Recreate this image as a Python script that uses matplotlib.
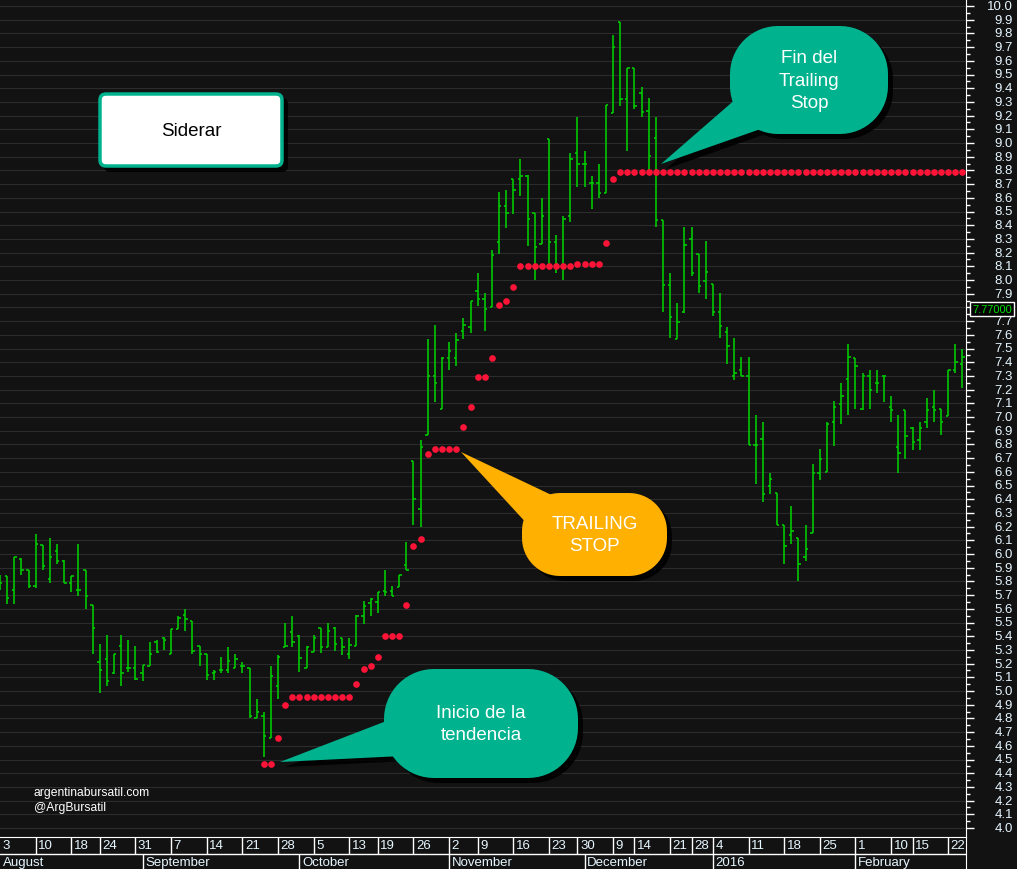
import numpy as np
import pandas as pd
import matplotlib
matplotlib.use("Agg")
import matplotlib.pyplot as plt
from matplotlib.patches import FancyBboxPatch, Polygon
from matplotlib.transforms import blended_transform_factory

plt.rcParams['font.family'] = ['Liberation Sans', 'DejaVu Sans']

# trading calendar (BCBA) -- business days minus market holidays
holidays = ["2015-08-17", "2015-10-12", "2015-11-06", "2015-11-27", "2015-12-07",
            "2015-12-08", "2015-12-24", "2015-12-25", "2015-12-31", "2016-01-01",
            "2016-02-08", "2016-02-09"]
days = pd.bdate_range("2015-08-03", "2016-02-24")
days = days[~days.isin(pd.to_datetime(holidays))]

# daily OHLC
opens = [5.80, 5.84, 5.74, 5.96, 5.88, 5.77, 6.065, 5.82, 6.02, 5.95,
         5.79, 5.74, 5.88, 5.63, 5.21, 5.23, 5.13, 5.33, 5.17, 5.17,
         5.13, 5.18, 5.36, 5.385, 5.27, 5.455, 5.555, 5.51, 5.33, 5.27,
         5.13, 5.155, 5.155, 5.17, 5.18, 5.17, 4.80, 4.82, 4.66, 5.04,
         5.32, 5.43, 5.40, 5.17, 5.285, 5.457, 5.32, 5.46, 5.39, 5.27,
         5.33, 5.55, 5.64, 5.65, 5.73, 5.73, 5.76, 5.92, 6.68, 6.33,
         6.87, 7.30, 7.06, 7.43, 7.43, 7.625, 7.66, 7.92, 7.86, 7.80,
         8.275, 8.54, 8.74, 8.74, 8.757, 8.49, 8.26, 9.03, 8.275, 8.105,
         8.47, 8.93, 8.85, 8.71, 8.71, 8.635, 9.22, 9.88, 9.32, 9.55,
         9.365, 9.23, 9.035, 8.44, 7.96, 7.57, 7.77, 8.30, 8.19, 7.995,
         7.97, 7.77, 7.62, 7.30, 7.34, 7.30, 6.795, 6.84, 6.495, 6.445,
         6.21, 6.14, 6.115, 5.975, 6.15, 6.59, 6.60, 6.96, 7.095, 7.28,
         7.43, 7.06, 7.30, 7.25, 7.30, 7.07, 6.78, 7.05, 6.92, 6.835,
         6.96, 7.07, 7.06, 7.01, 7.34, 7.39]
highs = [5.85, 5.84, 5.98, 5.968, 5.88, 6.145, 6.065, 6.115, 6.07, 5.955,
         5.84, 6.07, 5.88, 5.63, 5.34, 5.41, 5.27, 5.41, 5.37, 5.33,
         5.19, 5.36, 5.37, 5.395, 5.455, 5.545, 5.60, 5.51, 5.33, 5.27,
         5.15, 5.245, 5.32, 5.27, 5.21, 5.17, 4.94, 4.85, 5.18, 5.26,
         5.50, 5.55, 5.41, 5.33, 5.41, 5.457, 5.50, 5.465, 5.39, 5.39,
         5.555, 5.66, 5.676, 5.725, 5.885, 5.77, 5.85, 6.09, 6.68, 6.83,
         7.57, 7.67, 7.435, 7.55, 7.61, 7.72, 7.85, 8.05, 7.905, 8.22,
         8.645, 8.66, 8.74, 8.885, 8.77, 8.49, 8.60, 9.03, 8.33, 8.47,
         8.93, 9.19, 8.94, 8.76, 8.85, 9.28, 9.79, 9.88, 9.55, 9.55,
         9.41, 9.326, 9.19, 8.44, 8.05, 7.83, 8.385, 8.385, 8.19, 8.287,
         7.97, 7.905, 7.66, 7.577, 7.44, 7.44, 7.015, 6.966, 6.59, 6.445,
         6.21, 6.35, 6.115, 6.21, 6.66, 6.77, 6.966, 7.12, 7.25, 7.53,
         7.43, 7.32, 7.345, 7.34, 7.30, 7.155, 7.015, 7.053, 6.925, 6.96,
         7.14, 7.20, 7.06, 7.345, 7.53, 7.50]
lows = [5.74, 5.635, 5.635, 5.85, 5.75, 5.75, 5.885, 5.79, 5.93, 5.79,
        5.725, 5.695, 5.60, 5.27, 4.985, 5.04, 5.125, 5.04, 5.14, 5.08,
        5.075, 5.18, 5.28, 5.30, 5.27, 5.455, 5.44, 5.27, 5.18, 5.08,
        5.08, 5.13, 5.13, 5.17, 5.13, 4.80, 4.80, 4.515, 4.66, 4.94,
        5.32, 5.32, 5.14, 5.17, 5.285, 5.275, 5.32, 5.295, 5.26, 5.23,
        5.33, 5.49, 5.55, 5.57, 5.695, 5.69, 5.757, 5.88, 6.21, 6.20,
        6.87, 7.107, 7.06, 7.34, 7.37, 7.57, 7.61, 7.81, 7.63, 7.80,
        8.19, 8.38, 8.48, 8.61, 8.245, 8.00, 8.26, 8.115, 8.05, 8.00,
        8.42, 8.68, 8.68, 8.52, 8.60, 8.635, 9.22, 9.27, 8.94, 9.25,
        9.19, 8.805, 8.385, 7.77, 7.58, 7.57, 7.76, 8.03, 7.905, 7.86,
        7.74, 7.575, 7.39, 7.27, 7.30, 6.795, 6.51, 6.38, 6.44, 6.21,
        5.93, 6.07, 5.80, 5.95, 6.15, 6.54, 6.60, 6.79, 6.95, 7.015,
        7.06, 7.053, 7.06, 7.175, 7.11, 6.966, 6.59, 6.69, 6.76, 6.76,
        6.92, 6.966, 6.87, 7.01, 7.32, 7.21]
closes = [5.79, 5.68, 5.975, 5.88, 5.77, 6.07, 5.915, 5.98, 5.95, 5.79,
          5.84, 5.74, 5.69, 5.46, 5.155, 5.075, 5.27, 5.135, 5.17, 5.09,
          5.19, 5.27, 5.285, 5.37, 5.455, 5.53, 5.525, 5.29, 5.27, 5.12,
          5.14, 5.155, 5.22, 5.23, 5.18, 4.82, 4.85, 4.67, 5.11, 5.245,
          5.33, 5.36, 5.24, 5.32, 5.39, 5.32, 5.44, 5.343, 5.32, 5.336,
          5.55, 5.62, 5.67, 5.72, 5.72, 5.69, 5.85, 5.88, 6.40, 6.78,
          7.30, 7.246, 7.43, 7.48, 7.56, 7.674, 7.85, 7.86, 7.79, 8.18,
          8.54, 8.49, 8.66, 8.757, 8.445, 8.24, 8.47, 8.28, 8.12, 8.445,
          8.885, 8.85, 8.85, 8.71, 8.635, 9.277, 9.70, 9.32, 9.55, 9.27,
          9.224, 8.907, 8.44, 7.96, 7.73, 7.69, 8.255, 8.05, 7.955, 8.06,
          7.77, 7.665, 7.515, 7.32, 7.30, 6.795, 6.795, 6.44, 6.55, 6.21,
          6.06, 6.17, 5.93, 6.04, 6.59, 6.69, 6.95, 7.07, 7.15, 7.436,
          7.37, 7.30, 7.20, 7.25, 7.30, 7.053, 6.74, 6.86, 6.82, 6.92,
          7.05, 7.05, 6.96, 7.34, 7.40, 7.435]
# trailing stop dots (starts on bar 37)
stop = [None] * 37 + [
    4.47, 4.47, 4.66, 4.90,
    4.955, 4.955, 4.955, 4.955, 4.955, 4.955, 4.955, 4.955, 4.955,
    5.05, 5.16, 5.18, 5.245, 5.40, 5.40, 5.40,
    5.63, 6.06, 6.11, 6.73, 6.77, 6.77, 6.77, 6.77,
    6.925, 7.07, 7.29, 7.29, 7.43, 7.82, 7.85, 7.95,
    8.10, 8.10, 8.10, 8.10, 8.10, 8.10, 8.10, 8.10,
    8.115, 8.115, 8.115, 8.115, 8.27, 8.735,
    8.786, 8.786, 8.786, 8.786, 8.786, 8.786, 8.786, 8.786, 8.786, 8.786,
    8.786, 8.786, 8.786, 8.786, 8.786, 8.786, 8.786, 8.786, 8.786, 8.786,
    8.786, 8.786, 8.786, 8.786, 8.786, 8.786, 8.786, 8.786, 8.786, 8.786,
    8.786, 8.786, 8.786, 8.786, 8.786, 8.786, 8.786, 8.786, 8.786, 8.786,
    8.786, 8.786, 8.786, 8.786, 8.786, 8.786, 8.786, 8.786, 8.786]
last_price = 7.77
price_ticks = [round(4.0 + 0.1 * k, 1) for k in range(61)]

BG = "#121212"
GREEN = "#00c800"
RED = "#ff1438"
TEAL = "#00b38e"
ORANGE = "#ffb000"
AXTXT = "#e6f6ff"
W, H = 1017, 870

fig = plt.figure(figsize=(W / 100, H / 100), dpi=100, facecolor=BG)
ax = fig.add_axes([0, 32 / H, 966 / W, 838 / H], facecolor=BG)
idx = np.arange(len(opens))
stop_arr = np.array([np.nan if v is None else v for v in stop])

ax.vlines(idx, lows, highs, color=GREEN, lw=1.2)
ax.hlines(opens, idx - 0.33, idx, color=GREEN, lw=1.2)
ax.hlines(closes, idx, idx + 0.33, color=GREEN, lw=1.2)
ax.plot(idx, stop_arr, "o", color=RED, ms=4.8, mew=0, zorder=3)

ax.set_xlim(0, 135.5)
ax.set_ylim(4 - 9 / 137, 10 + 7 / 137)
ax.set_yticks(price_ticks)
ax.set_yticks([t + 0.05 for t in price_ticks[:-1]], minor=True)
ax.set_xticks([])
ax.grid(axis="y", which="major", color="#2c2c2c", lw=0.8)
ax.set_axisbelow(True)
ax.yaxis.tick_right()
ax.tick_params(axis="y", which="major", direction="out", length=5.5, width=1,
               color="white", labelright=False)
ax.tick_params(axis="y", which="minor", direction="out", length=3, width=1,
               color="white")
for s in ("top", "left", "bottom"):
    ax.spines[s].set_visible(False)
ax.spines["right"].set_color("white")

# right price scale; the last-price box sits on top of the label it covers
tr = blended_transform_factory(fig.transFigure, ax.transData)
box_y = last_price + 0.02
for t in price_ticks:
    if abs(t - box_y) < 0.06:
        continue
    ax.text(1013 / W, t, f"{t:.1f}", transform=tr, ha="right", va="center",
            fontsize=9.5, color=AXTXT, clip_on=False)
ax.text(992 / W, box_y, f"{last_price:.5f}", transform=tr, ha="center",
        va="center", fontsize=8, color="#00dd00", clip_on=False, zorder=5,
        bbox=dict(boxstyle="square,pad=0.2", fc="black", ec="white", lw=1))

# date band
axd = fig.add_axes([0, 0, 966 / W, 32 / H], facecolor=BG)
axd.set_xlim(0, 135.5)
axd.set_ylim(0, 32)
axd.set_xticks([]); axd.set_yticks([])
for s in ("left", "bottom"):
    axd.spines[s].set_visible(False)
for s in ("top", "right"):
    axd.spines[s].set_color("white")
week = days.to_period("W")
week_starts = [i for i in range(len(days)) if i == 0 or week[i] != week[i - 1]]
month_starts = [i for i in range(len(days)) if i == 0 or days[i].month != days[i - 1].month]
axd.axhline(15.5, color="white", lw=1)
axd.vlines(week_starts[1:], 15.5, 32, color="white", lw=1)
axd.vlines(month_starts[1:], 0, 15.5, color="white", lw=1)
for i in week_starts:
    axd.text(i + 0.35, 23.5, str(days[i].day), fontsize=9.5, color=AXTXT,
             ha="left", va="center")
for i in month_starts:
    name = str(days[i].year) if days[i].month == 1 else days[i].strftime("%B")
    axd.text(i + 0.35, 7, name, fontsize=9.5, color=AXTXT, ha="left", va="center")

# callouts, drawn in pixel coordinates
ov = fig.add_axes([0, 0, 1, 1])
ov.set_xlim(0, W); ov.set_ylim(H, 0)
ov.axis("off")
ov.patch.set_visible(False)


def rounded(x, y, w, h, r):
    # rectangle outline with circular-arc corners
    pts = []
    corners = [(x + w - r, y + r, -90, 0), (x + w - r, y + h - r, 0, 90),
               (x + r, y + h - r, 90, 180), (x + r, y + r, 180, 270)]
    for cx, cy, a0, a1 in corners:
        a = np.radians(np.linspace(a0, a1, 16))
        pts += list(zip(cx + r * np.cos(a), cy + r * np.sin(a)))
    return pts


def bubble(x, y, w, h, r, tail, color, text, size):
    for dx, fc, a, z in ((5, "black", 0.85, 4), (0, color, 1, 5)):
        ov.add_patch(Polygon([(px + dx, py + dx) for px, py in tail], closed=True,
                             fc=fc, ec="none", alpha=a, zorder=z))
        ov.add_patch(Polygon(rounded(x + dx, y + dx, w, h, r), closed=True,
                             fc=fc, ec="none", alpha=a, zorder=z))
    ov.text(x + w / 2, y + h / 2, text, ha="center", va="center", color="white",
            fontsize=size, linespacing=1.4, zorder=6)


bubble(730, 27, 158, 108, 48, [(745, 92), (661, 165), (772, 126)], TEAL,
       "Fin del\nTrailing\nStop", 13.5)
bubble(522, 494, 145, 83, 38, [(560, 500), (461, 453), (530, 528)], ORANGE,
       "TRAILING\nSTOP", 13.5)
bubble(384, 670, 194, 109, 50, [(402, 716), (280, 763), (402, 757)], TEAL,
       "Inicio de la\ntendencia", 13.5)

ov.add_patch(FancyBboxPatch((104, 99), 184, 74, boxstyle="round,pad=0,rounding_size=6",
                            fc="black", ec="none", alpha=0.85, zorder=4))
ov.add_patch(FancyBboxPatch((100, 95), 182, 72, boxstyle="round,pad=0,rounding_size=6",
                            fc="white", ec=TEAL, lw=2.5, zorder=5))
ov.text(191, 131, "Siderar", ha="center", va="center", fontsize=13.5, color="black", zorder=6)

ov.text(34, 793, "argentinabursatil.com", ha="left", va="center", fontsize=8.7, color="white")
ov.text(34, 808, "@ArgBursatil", ha="left", va="center", fontsize=8.7, color="white")

fig.savefig("out.png", dpi=100, facecolor=BG)
